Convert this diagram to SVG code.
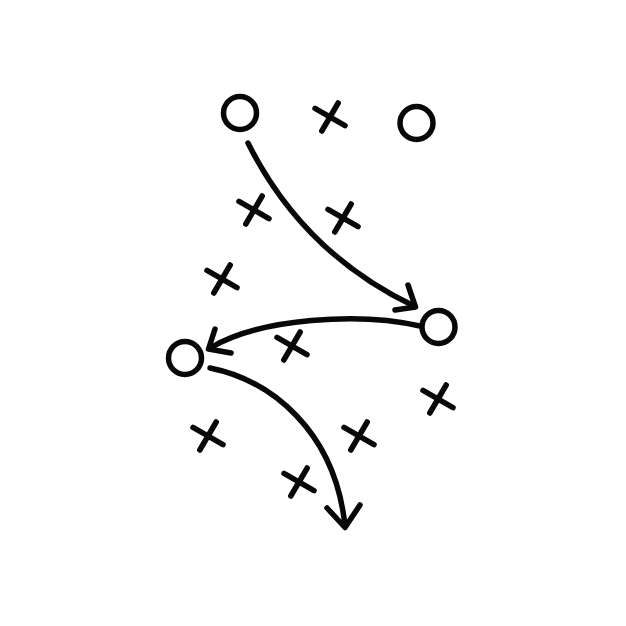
<svg xmlns="http://www.w3.org/2000/svg" xmlns:xlink="http://www.w3.org/1999/xlink" width="626" height="626" viewBox="0 0 626 626">
<style>
.s{fill:none;stroke:#080808;stroke-width:5.5;stroke-linecap:round;stroke-linejoin:round}
</style>
<defs>
<path id="x" d="M-15,-8.6 L15,8.6 M8.2,-14 L-8.2,14"/>
</defs>
<rect width="626" height="626" fill="#fff"/>
<g id="o1"><circle class="s" cx="240" cy="113" r="16.5"/></g>
<g id="o2"><circle class="s" cx="416.5" cy="123" r="16.5"/></g>
<g id="o3"><circle class="s" cx="438.5" cy="327" r="16.5"/></g>
<g id="o4"><circle class="s" cx="185" cy="358" r="16.5"/></g>
<g id="x1"><use class="s" xlink:href="#x" href="#x" x="330" y="117"/></g>
<g id="x2"><use class="s" xlink:href="#x" href="#x" x="254" y="210"/></g>
<g id="x3"><use class="s" xlink:href="#x" href="#x" x="343" y="218"/></g>
<g id="x4"><use class="s" xlink:href="#x" href="#x" x="222" y="279"/></g>
<g id="x5"><use class="s" xlink:href="#x" href="#x" x="292" y="346"/></g>
<g id="x6"><use class="s" xlink:href="#x" href="#x" x="438" y="399"/></g>
<g id="x7"><use class="s" xlink:href="#x" href="#x" x="208" y="436"/></g>
<g id="x8"><use class="s" xlink:href="#x" href="#x" x="359" y="436"/></g>
<g id="x9"><use class="s" xlink:href="#x" href="#x" x="299" y="482"/></g>
<g id="connectors">
<path class="s" d="M248,143 Q303,253 414,306"/>
<polyline class="s" points="408,285 415.5,307 395,310"/>
<path class="s" d="M420,326 C360,312 260,318 210,348"/>
<polyline class="s" points="215,329 208.5,349 231,353"/>
<path class="s" d="M210,368 C270,380 335,430 345,526"/>
<polyline class="s" points="327,508 345,527.5 360,505"/>
</g>
</svg>
